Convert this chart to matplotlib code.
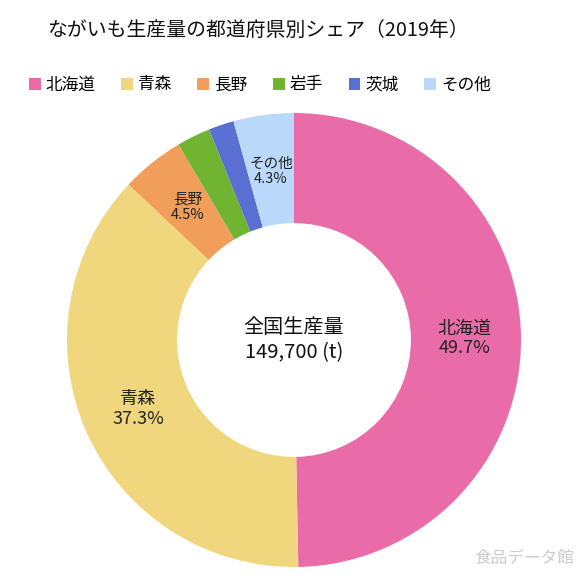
import numpy as np
import matplotlib
matplotlib.use('Agg')
import matplotlib.pyplot as plt
from matplotlib.patches import Patch

plt.rcParams['font.family'] = ['Noto Sans CJK JP', 'DejaVu Sans']

# data
prefs = ['北海道', '青森', '長野', '岩手', '茨城', 'その他']
shares = [49.7, 37.3, 4.5, 2.4, 1.8, 4.3]
colors = ['#E96CA8', '#F0D77D', '#F09E5A', '#70B432', '#5A6FD2', '#BAD9FA']
show_label = [True, True, True, False, False, True]
total_text = '全国生産量\n149,700 (t)'

fig = plt.figure(figsize=(5.86, 5.86), dpi=100)
cx, cy, r = 294 / 586, 1 - 340 / 586, 227 / 586
ax = fig.add_axes([cx - r, cy - r, 2 * r, 2 * r])

wedges, _ = ax.pie(shares, colors=colors, startangle=90, counterclock=False,
                   radius=1, wedgeprops=dict(width=0.485, linewidth=0))
ax.set_xlim(-1, 1)
ax.set_ylim(-1, 1)
ax.set_aspect('equal')

# labels in the ring
for w, name, val, show in zip(wedges, prefs, shares, show_label):
    if not show:
        continue
    ang = np.deg2rad((w.theta1 + w.theta2) / 2)
    x, y = 0.75 * np.cos(ang), 0.75 * np.sin(ang)
    fs = 13 if val > 10 else 10.5
    ax.text(x, y, f'{name}\n{val}%', ha='center', va='center', fontsize=fs,
            color='#222222', linespacing=1.1)

ax.text(0, 0, total_text, ha='center', va='center', fontsize=14.5,
        color='#111111', linespacing=1.3)

fig.text(258 / 586, 1 - 30 / 586, 'ながいも生産量の都道府県別シェア（2019年）',
         ha='center', va='center', fontsize=14.3, color='#111111')

handles = [Patch(facecolor=c, edgecolor='none') for c in colors]
fig.legend(handles, prefs, loc='center', bbox_to_anchor=(260 / 586, 1 - 85 / 586),
           ncol=6, frameon=False, fontsize=12, handlelength=0.7,
           handleheight=0.7, handletextpad=0.3, columnspacing=1.55)

fig.text(1 - 12 / 586, 1 - 558 / 586, '食品データ館', ha='right', va='center',
         fontsize=12, color='#cccccc')

fig.savefig('out.png', dpi=100, facecolor='white')
